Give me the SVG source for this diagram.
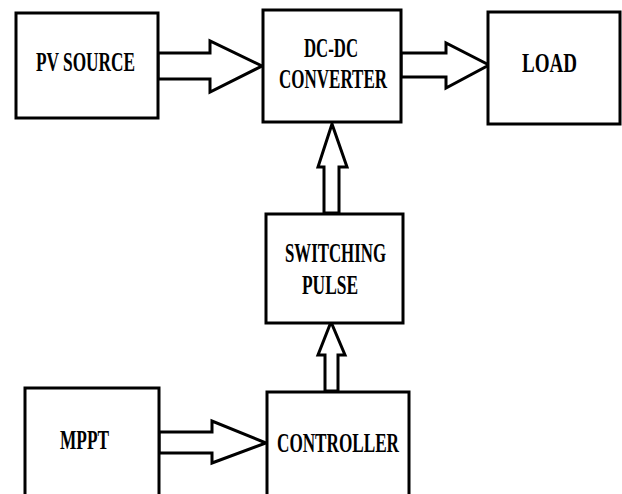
<svg xmlns="http://www.w3.org/2000/svg" width="622" height="494" viewBox="0 0 622 494">
<style>
.box{fill:#fff;stroke:#000;stroke-width:3}
.arr{fill:#fff;stroke:#000;stroke-width:3;stroke-linejoin:miter}
.t{font-family:"Liberation Serif","Times New Roman",serif;font-weight:bold;font-size:27px;fill:#000}
</style>
<rect width="622" height="494" fill="#fff"/>
<g id="connectors">
<polygon class="arr" points="158,53 210,53 210,41 262,66 210,92 210,79 158,79"/>
<polygon class="arr" points="401,53 446,53 446,43 489,65 446,88 446,77 401,77"/>
<polygon class="arr" points="159,432 212,432 212,421 266,443 212,463 212,453 159,453"/>
<polygon class="arr" points="324,213 324,167 318,167 332,124 347,167 339,167 339,213"/>
<polygon class="arr" points="325,391 325,355 318,355 331,322 345,355 338,355 338,391"/>
</g>
<g id="pv-source">
<rect class="box" x="16" y="13" width="142" height="105"/>
<text class="t" x="36" y="71" textLength="99" lengthAdjust="spacingAndGlyphs">PV SOURCE</text>
</g>
<g id="dc-dc-converter">
<rect class="box" x="263" y="10" width="138" height="112"/>
<text class="t" x="304" y="57" textLength="54" lengthAdjust="spacingAndGlyphs">DC-DC</text>
<text class="t" x="279" y="88" textLength="108" lengthAdjust="spacingAndGlyphs">CONVERTER</text>
</g>
<g id="load">
<rect class="box" x="488" y="12" width="132" height="112"/>
<text class="t" x="522" y="72" textLength="55" lengthAdjust="spacingAndGlyphs">LOAD</text>
</g>
<g id="switching-pulse">
<rect class="box" x="266" y="214" width="137" height="109"/>
<text class="t" x="285" y="262" textLength="101" lengthAdjust="spacingAndGlyphs">SWITCHING</text>
<text class="t" x="302" y="294" textLength="56" lengthAdjust="spacingAndGlyphs">PULSE</text>
</g>
<g id="mppt">
<rect class="box" x="25" y="388" width="134" height="120"/>
<text class="t" x="60" y="449" textLength="49" lengthAdjust="spacingAndGlyphs">MPPT</text>
</g>
<g id="controller">
<rect class="box" x="267" y="392" width="142" height="120"/>
<text class="t" x="277" y="452" textLength="122" lengthAdjust="spacingAndGlyphs">CONTROLLER</text>
</g>
</svg>
